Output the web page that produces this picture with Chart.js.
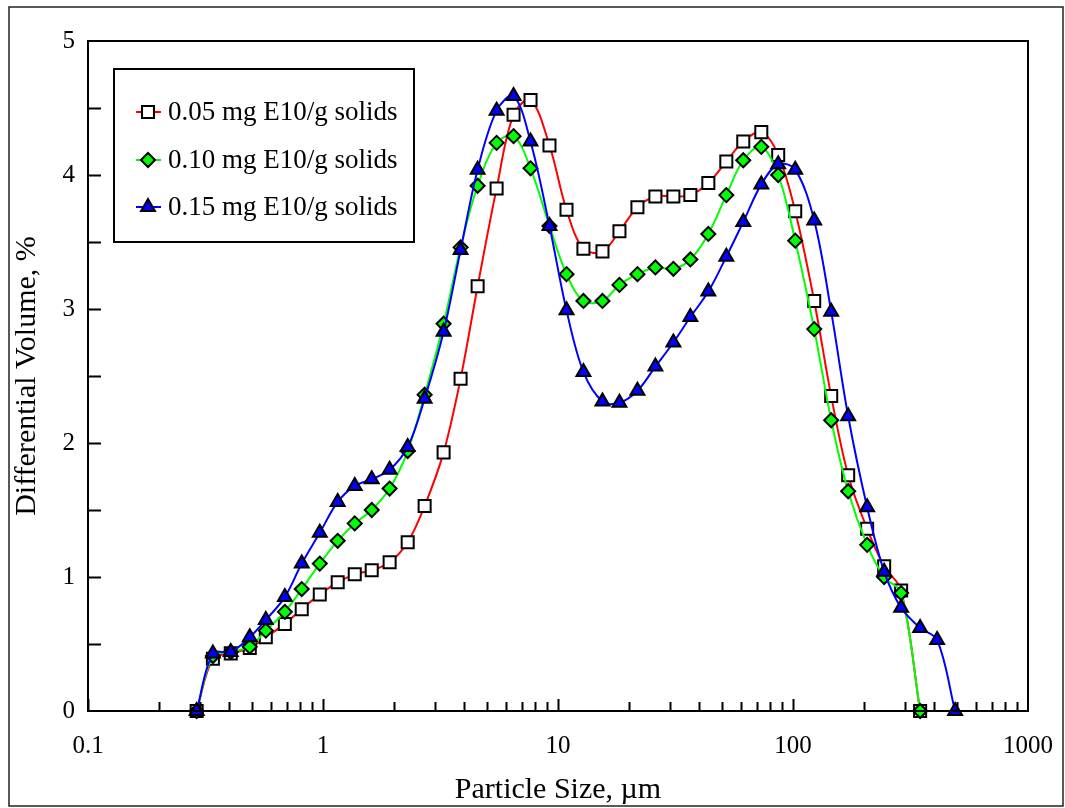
<!DOCTYPE html>
<html lang="en">

<head>
    <meta charset="utf-8">
    <title>Particle Size Distribution</title>
    <style>
        html, body { margin: 0; padding: 0; background: #fff; }
        #wrap { width: 1065px; height: 808px; position: relative; }
    </style>
</head>

<body>
    <div id="wrap">
        <canvas id="psdChart"></canvas>
    </div>
    <script src="https://cdn.jsdelivr.net/npm/chart.js"></script>
    <script>
        // particle size bins (um)
        const sizes = [0.29, 0.34, 0.405, 0.488, 0.571, 0.688, 0.812, 0.969, 1.155, 1.365, 1.612, 1.921,
            2.293, 2.707, 3.26, 3.85, 4.55, 5.48, 6.47, 7.64, 9.2, 10.87, 12.83, 15.46, 18.26, 21.78,
            25.97, 30.97, 36.58, 43.62, 52.03, 61.43, 73.3, 86.5, 102.2, 123.1, 145.4, 171.7, 206.8,
            244.3, 288.5, 347.5, 410.5, 489.5];

        const labels = ['0.05 mg E10/g solids', '0.10 mg E10/g solids', '0.15 mg E10/g solids'];

        // differential volume, %
        const vol005 = [0, 0.39, 0.43, 0.47, 0.55, 0.65, 0.76, 0.87, 0.96, 1.02, 1.05, 1.11, 1.26, 1.53,
            1.93, 2.48, 3.17, 3.90, 4.45, 4.56, 4.22, 3.74, 3.45, 3.43, 3.58, 3.76, 3.84, 3.84, 3.85,
            3.94, 4.10, 4.25, 4.32, 4.15, 3.73, 3.06, 2.35, 1.76, 1.36, 1.08, 0.90, 0];
        const vol010 = [0, 0.41, 0.44, 0.48, 0.60, 0.74, 0.91, 1.10, 1.27, 1.40, 1.50, 1.66, 1.94, 2.36,
            2.89, 3.46, 3.92, 4.24, 4.29, 4.05, 3.62, 3.26, 3.06, 3.06, 3.18, 3.26, 3.31, 3.30, 3.37,
            3.56, 3.85, 4.11, 4.21, 4.00, 3.51, 2.85, 2.17, 1.64, 1.24, 1.00, 0.88, 0];
        const vol015 = [0, 0.43, 0.44, 0.55, 0.68, 0.85, 1.10, 1.33, 1.56, 1.68, 1.73, 1.80, 1.97, 2.33,
            2.83, 3.44, 4.04, 4.48, 4.59, 4.25, 3.62, 2.99, 2.53, 2.31, 2.30, 2.39, 2.57, 2.75, 2.94,
            3.13, 3.39, 3.65, 3.93, 4.08, 4.04, 3.66, 2.98, 2.20, 1.52, 1.04, 0.77, 0.62, 0.53, 0];

        const xTicks = [0.1, 1, 10, 100, 1000];
        const yTicks = [0, 1, 2, 3, 4, 5];

        const serif = '"Liberation Serif", "Times New Roman", serif';

        function pairs(vals) {
            return vals.map((v, i) => ({ x: sizes[i], y: v }));
        }

        function series(label, vals, color, style, radius, fill, order) {
            return {
                label: label,
                data: pairs(vals),
                borderColor: color,
                borderWidth: 2,
                tension: 0.35,
                pointStyle: style,
                pointRadius: radius,
                pointHoverRadius: radius,
                pointBackgroundColor: fill,
                pointBorderColor: '#000',
                pointBorderWidth: 2,
                clip: false,
                order: order
            };
        }

        function marker(ctx, style, x, y, r) {
            ctx.beginPath();
            if (style === 'rect') {
                const s = Math.SQRT1_2 * r;
                ctx.rect(x - s, y - s, 2 * s, 2 * s);
            } else if (style === 'rectRot') {
                ctx.moveTo(x - r, y);
                ctx.lineTo(x, y - r);
                ctx.lineTo(x + r, y);
                ctx.lineTo(x, y + r);
                ctx.closePath();
            } else {
                ctx.moveTo(x, y - r);
                ctx.lineTo(x + r * Math.sin(2 * Math.PI / 3), y + r / 2);
                ctx.lineTo(x - r * Math.sin(2 * Math.PI / 3), y + r / 2);
                ctx.closePath();
            }
        }

        // frame, inward ticks and the boxed legend
        const decorations = {
            id: 'decorations',
            afterDatasetsDraw(chart) {
                const ctx = chart.ctx;
                const a = chart.chartArea;
                const xs = chart.scales.x;
                const ys = chart.scales.y;
                ctx.save();
                ctx.strokeStyle = '#000';
                ctx.lineWidth = 2;
                ctx.strokeRect(a.left, a.top, a.right - a.left, a.bottom - a.top);

                ctx.beginPath();
                for (let d = 0.1; d < 1000; d *= 10) {
                    for (let m = 1; m <= 9; m++) {
                        const px = Math.round(xs.getPixelForValue(d * m)) + 0.5;
                        const len = m === 1 ? 12 : 9;
                        ctx.moveTo(px, a.bottom);
                        ctx.lineTo(px, a.bottom - len);
                    }
                }
                for (let v = 0.5; v < 5; v += 0.5) {
                    const py = Math.round(ys.getPixelForValue(v)) + 0.5;
                    ctx.moveTo(a.left, py);
                    ctx.lineTo(a.left + 13, py);
                }
                ctx.stroke();

                // outer figure frame
                ctx.lineWidth = 1.5;
                ctx.strokeStyle = '#222';
                ctx.strokeRect(9, 7, 1054, 799);

                // legend
                ctx.lineWidth = 2;
                ctx.strokeStyle = '#000';
                ctx.fillStyle = '#fff';
                ctx.fillRect(114, 69, 300, 173);
                ctx.strokeRect(114, 69, 300, 173);
                const rows = [112, 160, 207];
                chart.data.datasets.forEach((ds, i) => {
                    const y = rows[i];
                    ctx.beginPath();
                    ctx.strokeStyle = ds.borderColor;
                    ctx.lineWidth = 2;
                    ctx.moveTo(136, y);
                    ctx.lineTo(161, y);
                    ctx.stroke();
                    marker(ctx, ds.pointStyle, 148, y, ds.pointRadius);
                    ctx.fillStyle = ds.pointBackgroundColor;
                    ctx.fill();
                    ctx.strokeStyle = '#000';
                    ctx.stroke();
                    ctx.fillStyle = '#000';
                    ctx.font = '27px ' + serif;
                    ctx.textBaseline = 'middle';
                    ctx.textAlign = 'left';
                    ctx.fillText(ds.label, 168, y + 1);
                });
                ctx.restore();
            }
        };

        var ctx = document.getElementById('psdChart').getContext('2d');
        var psdChart = new Chart(ctx, {
            type: 'line',
            data: {
                datasets: [
                    series(labels[0], vol005, '#ff0000', 'rect', 8.5, '#ffffff', 3),
                    series(labels[1], vol010, '#00ff00', 'rectRot', 7, '#00ff00', 2),
                    series(labels[2], vol015, '#0000ff', 'triangle', 8, '#0000ff', 1)
                ]
            },
            options: {
                responsive: true,
                maintainAspectRatio: false,
                animation: false,
                events: [],
                layout: {
                    padding: { left: 0, top: 41, right: 37, bottom: 0 }
                },
                plugins: {
                    legend: { display: false },
                    tooltip: { enabled: false }
                },
                scales: {
                    x: {
                        type: 'logarithmic',
                        min: 0.1,
                        max: 1000,
                        afterBuildTicks: (scale) => {
                            scale.ticks = xTicks.map(v => ({ value: v }));
                        },
                        afterFit: (scale) => {
                            scale.height = 97;
                            scale.paddingLeft = 0;
                            scale.paddingRight = 0;
                        },
                        grid: { display: false, drawTicks: false },
                        border: { display: false },
                        ticks: {
                            autoSkip: false,
                            maxRotation: 0,
                            padding: 20,
                            color: '#000',
                            font: { family: serif, size: 25 },
                            callback: (v) => String(v)
                        },
                        title: {
                            display: true,
                            text: 'Particle Size, \u00b5m',
                            color: '#000',
                            font: { family: serif, size: 30 },
                            padding: { top: 0, bottom: 0 }
                        }
                    },
                    y: {
                        min: 0,
                        max: 5,
                        afterBuildTicks: (scale) => {
                            scale.ticks = yTicks.map(v => ({ value: v }));
                        },
                        afterFit: (scale) => { scale.width = 88; },
                        grid: { display: false, drawTicks: false },
                        border: { display: false },
                        ticks: {
                            padding: 13,
                            color: '#000',
                            font: { family: serif, size: 25 }
                        },
                        title: {
                            display: true,
                            text: 'Differential Volume, %',
                            color: '#000',
                            font: { family: serif, size: 30 },
                            padding: { top: 9, bottom: 0 }
                        }
                    }
                }
            },
            plugins: [decorations]
        });
    </script>
</body>

</html>
